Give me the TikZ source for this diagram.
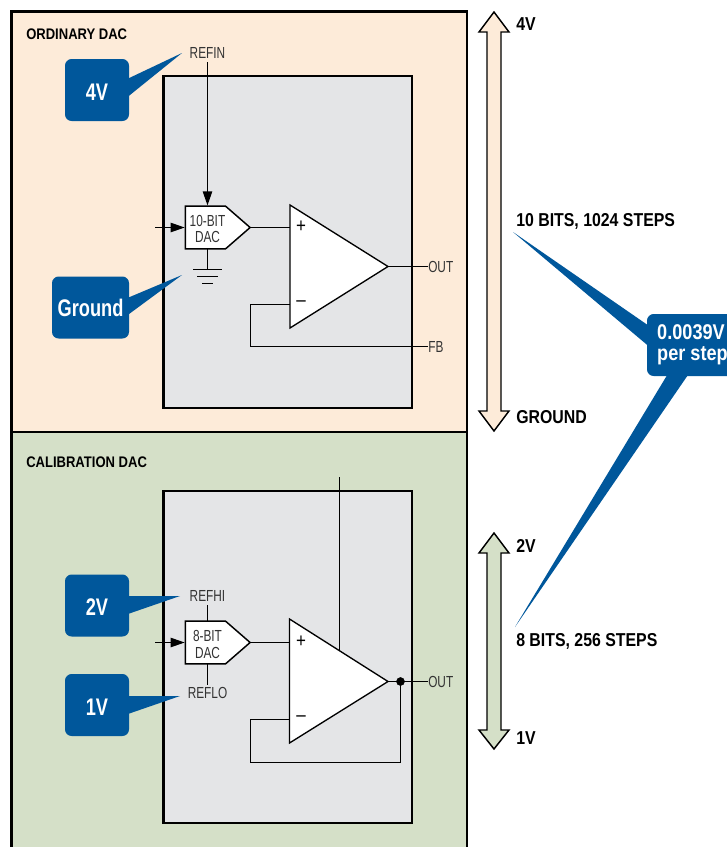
\documentclass[tikz,border=0pt]{standalone}
\usepackage{fontspec}
\setmainfont[FakeStretch=0.85]{Liberation Sans}
\newfontfamily\narrowfont[FakeStretch=0.74]{Liberation Sans}
\newfontfamily\calloutfont[FakeStretch=0.76]{Liberation Sans}
\usetikzlibrary{arrows.meta, shapes.symbols}
\definecolor{calloutblue}{HTML}{00579B}
\definecolor{panelpeach}{HTML}{FDEBD9}
\definecolor{panelgreen}{HTML}{D5E0C8}
\definecolor{chipgray}{HTML}{E4E5E7}
\definecolor{pintext}{HTML}{333333}
\tikzset{
  panel/.style={draw=black, line width=2.2pt},
  chip/.style={draw=black, line width=2.2pt, fill=chipgray},
  wire/.style={draw=black, line width=1pt},
  feed/.style={wire, -{Triangle[length=10.5pt, width=7pt]}},
  amp/.style={draw=black, line width=1pt, fill=white},
  rangearrow/.style={draw=black, line width=1.1pt, line join=miter},
  callout/.style={rectangle, rounded corners=5pt, fill=calloutblue, text=white, inner sep=0pt,
    font=\calloutfont\fontsize{18}{19}\selectfont\bfseries},
  dac/.style={shape=signal, signal to=east, signal pointer angle=82, draw=black, line width=1.1pt, fill=white,
    minimum width=48.5pt, minimum height=32pt, inner sep=0pt},
  dactext/.style={text=pintext, inner sep=0pt, align=center, font=\narrowfont\fontsize{12}{12.2}\selectfont},
  pin/.style={text=pintext, inner sep=0pt, font=\narrowfont\fontsize{12}{13}\selectfont},
  heading/.style={anchor=west, inner sep=0pt, font=\fontsize{11.5}{13}\selectfont\bfseries},
  scalelabel/.style={anchor=west, inner sep=0pt, font=\fontsize{14}{15}\selectfont\bfseries},
  sign/.style={inner sep=0pt, font=\fontsize{15}{15}\selectfont}
}
\begin{document}
\begin{tikzpicture}[x=0.75pt, y=-0.75pt]
  \clip (0,0) rectangle (727,847);
  \useasboundingbox (0,0) rectangle (727,847);

  % panels and chips
  \filldraw[panel, fill=panelpeach] (11.5,11.5) rectangle (467,432);
  \filldraw[panel, fill=panelgreen] (11.5,432) rectangle (467,860);
  \filldraw[chip] (163.5,76) rectangle (412,408);
  \filldraw[chip] (163.5,491) rectangle (412,823);
  \node[heading] (ordinary) at (26,34) {ORDINARY DAC};
  \node[heading] (calibration) at (26,462) {CALIBRATION DAC};

  % ordinary DAC
  \node[pin] (refin) at (207.5,53) {REFIN};
  \node[dac] (dacten) at (205.5,227.5) {};
  \node[dactext] (labelten) at (207.5,229.3) {10-BIT\\DAC};
  \coordinate (inten) at (155,227.5);
  \draw[feed] (inten) -- (dacten.west);
  \draw[feed] (refin.south |- 0,62) -- (dacten.north -| refin.south);
  \coordinate (gndten) at (207.5,269.5);
  \draw[wire] (207.5,249) -- (gndten);
  \draw[wire] (193,269.5) -- (222,269.5);
  \draw[wire] (197,276.5) -- (218,276.5);
  \draw[wire] (202,283.5) -- (213,283.5);
  \coordinate (plusten) at (290,227.5);
  \coordinate (minusten) at (290,304.5);
  \coordinate (apexten) at (388,266.5);
  \draw[wire] (dacten.east) -- (plusten);
  \filldraw[amp] (290,205) -- (apexten) -- (290,328) -- cycle;
  \node[sign] (plussignten) at (301,227) {+};
  \node[sign] (minussignten) at (301,304) {--};
  \node[pin, anchor=west] (outten) at (428,266.5) {OUT};
  \node[pin, anchor=west] (fb) at (428,346.5) {FB};
  \draw[wire] (apexten) -- (outten.west);
  \draw[wire] (minusten) -- (250.5,304.5) -- (250.5,346.5) -- (fb.west);

  % calibration DAC
  \node[pin] (refhi) at (207.5,596) {REFHI};
  \node[pin] (reflo) at (207.5,693) {REFLO};
  \node[dac] (daceight) at (205.5,642.5) {};
  \node[dactext] (labeleight) at (207.5,644.6) {8-BIT\\DAC};
  \coordinate (ineight) at (155,642.5);
  \draw[feed] (ineight) -- (daceight.west);
  \draw[wire] (207.5,605) -- (207.5,621);
  \draw[wire] (207.5,664) -- (207.5,685);
  \coordinate (pluseight) at (289.5,642.5);
  \coordinate (minuseight) at (289.5,719.5);
  \coordinate (apexeight) at (388,681.5);
  \coordinate (rail) at (339.5,477);
  \draw[wire] (daceight.east) -- (pluseight);
  \draw[wire] (rail) -- (339.5,655);
  \filldraw[amp] (289.5,619) -- (apexeight) -- (289.5,743) -- cycle;
  \node[sign] (plussigneight) at (301,642) {+};
  \node[sign] (minussigneight) at (301,719) {--};
  \node[pin, anchor=west] (outeight) at (428,681.5) {OUT};
  \draw[wire] (apexeight) -- (outeight.west);
  \filldraw[black] (400.5,681.5) circle (4);
  \draw[wire] (minuseight) -- (250.5,719.5) -- (250.5,762.5) -- (400.5,762.5) -- (400.5,681.5);

  % voltage ranges
  \filldraw[rangearrow, fill=panelpeach] (494,12) -- (509,32) -- (501,32) -- (501,411) -- (509,411) -- (494,431)
    -- (479,411) -- (487,411) -- (487,32) -- (479,32) -- cycle;
  \filldraw[rangearrow, fill=panelgreen] (494,533) -- (509,553) -- (501,553) -- (501,730) -- (509,730) -- (494,749)
    -- (479,730) -- (487,730) -- (487,553) -- (479,553) -- cycle;
  \node[scalelabel] (topfour) at (516,24.5) {4V};
  \node[scalelabel] (tenbits) at (516,221) {10 BITS, 1024 STEPS};
  \node[scalelabel] (ground) at (516,417.5) {GROUND};
  \node[scalelabel] (toptwo) at (516,545.5) {2V};
  \node[scalelabel] (eightbits) at (516,641) {8 BITS, 256 STEPS};
  \node[scalelabel] (botone) at (516,738.5) {1V};

  % callouts
  \fill[calloutblue] (125,80) -- (182,53) -- (125,99) -- cycle;
  \fill[calloutblue] (125,299) -- (182,275) -- (125,317) -- cycle;
  \fill[calloutblue] (125,596) -- (180,596) -- (125,615) -- cycle;
  \fill[calloutblue] (125,696) -- (180,696) -- (125,715) -- cycle;
  \fill[calloutblue] (513,232) -- (652,328) -- (652,349) -- cycle;
  \fill[calloutblue] (515,627) -- (669,372) -- (690,372) -- cycle;
  \node[callout, text height=15.5pt, minimum width=48pt, minimum height=46.5pt] (fourv) at (97,90) {4V};
  \node[callout, minimum width=57.75pt, minimum height=46.5pt] (groundv) at (90.5,307.5) {Ground};
  \node[callout, text height=15.5pt, minimum width=48pt, minimum height=46.5pt] (twov) at (97,605.5) {2V};
  \node[callout, text height=15.5pt, minimum width=48pt, minimum height=46.5pt] (onev) at (97,705) {1V};
  \node[callout, minimum width=68.25pt, minimum height=46.5pt, align=left,
    font=\fontsize{16}{15.75}\selectfont\bfseries] (perstep) at (692.5,345) {0.0039V\\per step};
\end{tikzpicture}
\end{document}
